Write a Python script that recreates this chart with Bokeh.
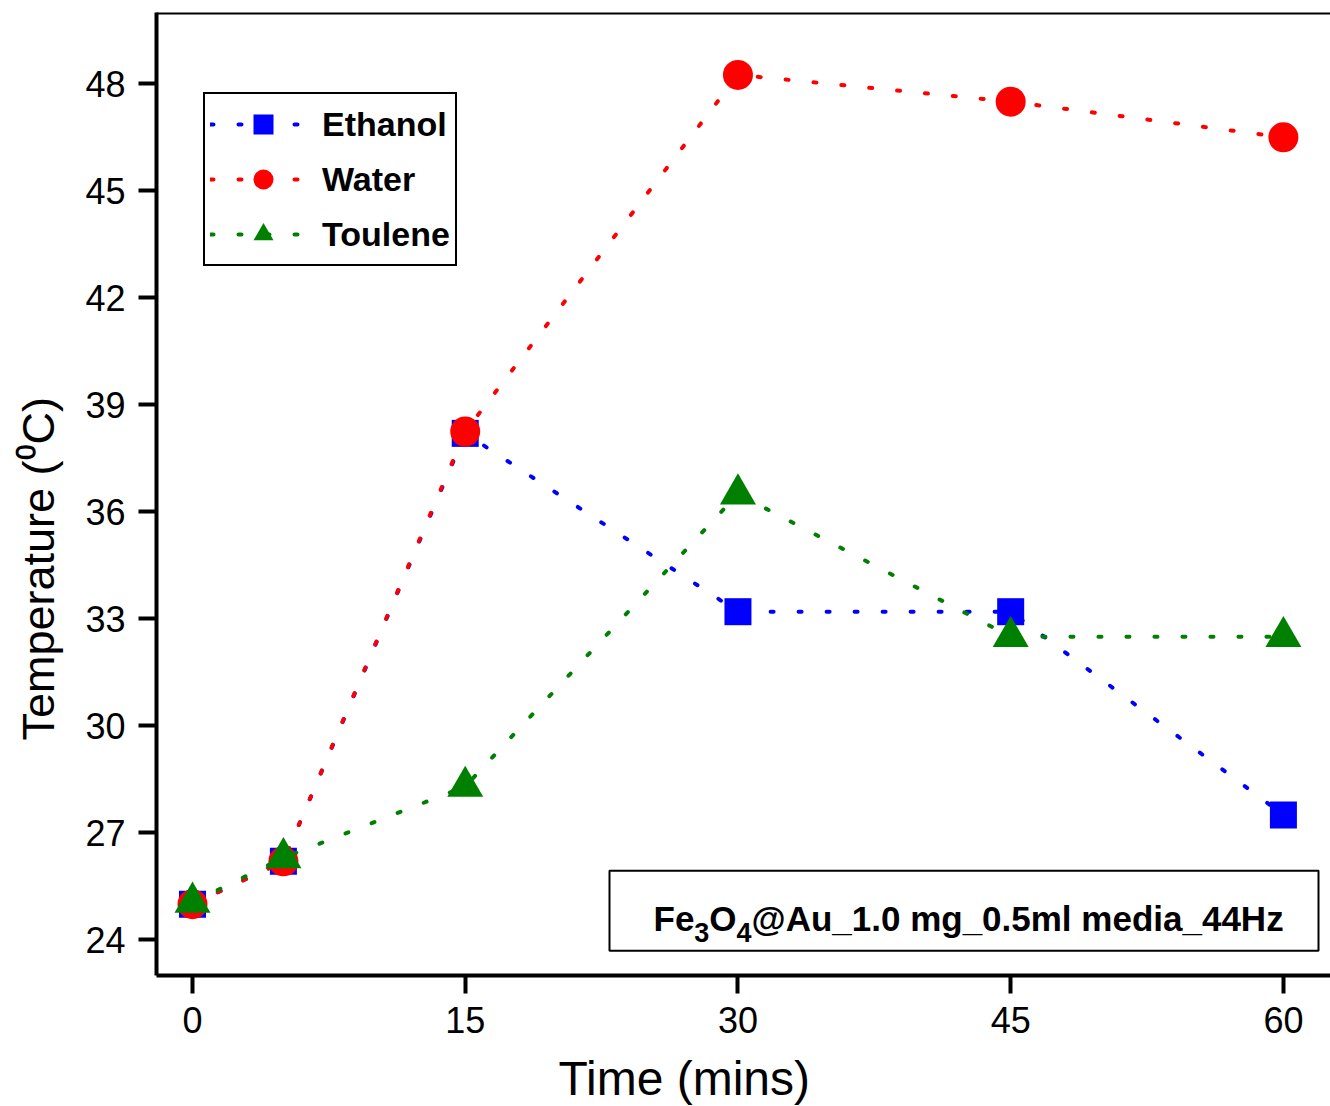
import numpy as np
from bokeh.plotting import figure
from bokeh.models import Range1d, FixedTicker, Label, BoxAnnotation, Span, Title
from bokeh.embed import file_html
from bokeh.resources import INLINE

# ---------------- data ----------------
time_min = [0, 5, 15, 30, 45, 60]
ethanol = [25.0, 26.2, 38.2, 33.2, 33.2, 27.5]
water = [25.0, 26.2, 38.25, 48.25, 47.5, 46.5]
toulene = [25.05, 26.3, 28.3, 36.5, 32.5, 32.5]
series_names = ["Ethanol", "Water", "Toulene"]
x_ticks = [0, 15, 30, 45, 60]
y_ticks = [24, 27, 30, 33, 36, 39, 42, 45, 48]
x_label = "Time (mins)"
y_label = "Temperature (\u2070C)"
note_parts = ["Fe", "3", "O", "4", "@Au_1.0 mg_0.5ml media_44Hz"]

FONT = "Liberation Sans"
colors = ["#0000FF", "#FF0000", "#008000"]
markers = ["square", "circle", "triangle"]
msizes = [27, 30, 36]

p = figure(width=1330, height=1106, output_backend="svg", toolbar_location=None,
           x_range=Range1d(-1.98, 62.59), y_range=Range1d(23, 50),
           min_border_left=156, min_border_right=0, min_border_top=12,
           min_border_bottom=131,
           background_fill_color="white", border_fill_color="white")
p.outline_line_color = None
p.grid.visible = False

for ax in (p.xaxis[0], p.yaxis[0]):
    ax.axis_line_width = 4
    ax.axis_line_color = "black"
    ax.major_tick_line_width = 4
    ax.major_tick_line_color = "black"
    ax.major_tick_in = 0
    ax.major_tick_out = 18
    ax.minor_tick_line_color = None
    ax.major_label_text_font = FONT
    ax.major_label_text_font_size = "36px"
    ax.major_label_text_color = "black"
    ax.major_label_standoff = 13
    ax.axis_label = None
p.xaxis[0].ticker = FixedTicker(ticks=x_ticks)
p.yaxis[0].ticker = FixedTicker(ticks=y_ticks)
# blank axis labels used only as spacers between tick labels and the titles
p.yaxis[0].axis_label = " "
p.yaxis[0].axis_label_text_font_size = "1px"
p.yaxis[0].axis_label_standoff = 10
p.xaxis[0].axis_label = " "
p.xaxis[0].axis_label_text_font_size = "1px"
p.xaxis[0].axis_label_standoff = 12

# top frame border
p.add_layout(Span(location=50, dimension="width", line_color="black", line_width=4))

for name, ys, c, m, s in zip(series_names, [ethanol, water, toulene], colors, markers, msizes):
    p.line(time_min, ys, line_color=c, line_width=4, line_dash="3 25",
           line_cap="round", legend_label=name)
    p.scatter(time_min, ys, marker=m, size=s, fill_color=c, line_color=None,
              legend_label=name)

lg = p.legend[0]
lg.location = (47, 709)
lg.padding = 5
lg.spacing = 5
lg.margin = 0
lg.glyph_width = 106
lg.glyph_height = 50
lg.label_standoff = 6
lg.label_text_font = FONT
lg.label_text_font_style = "bold"
lg.label_text_font_size = "34px"
lg.label_text_color = "black"
lg.border_line_color = "black"
lg.border_line_alpha = 1.0
lg.border_line_width = 2
lg.background_fill_color = "white"
lg.background_fill_alpha = 1

# axis titles as side-panel titles (so they can be offset along the frame)
p.add_layout(Title(text=x_label, align="left", vertical_align="top", offset=402,
                   standoff=0, text_font=FONT, text_font_size="48px",
                   text_font_style="normal", text_color="black"), "below")
p.add_layout(Title(text=y_label, align="left", offset=235, standoff=10,
                   text_font=FONT, text_font_size="45px", text_font_style="normal",
                   text_color="black"), "left")

# annotation box with sub-scripted formula
p.add_layout(BoxAnnotation(left=453, right=1162, bottom=24.7, top=104.7,
                           left_units="screen", right_units="screen",
                           bottom_units="screen", top_units="screen",
                           fill_color="white", fill_alpha=1.0,
                           line_color="black", line_width=2, line_alpha=1.0))
note_pos = [(497.0, 56.7, "35px"), (537.8, 42.7, "27px"), (552.8, 56.7, "35px"),
            (580.0, 42.7, "27px"), (595.0, 56.7, "35px")]
for txt, (xx, yy, fs) in zip(note_parts, note_pos):
    p.add_layout(Label(x=xx, y=yy, x_units="screen", y_units="screen", text=txt,
                       text_align="left", text_baseline="alphabetic",
                       text_font=FONT, text_font_style="bold", text_font_size=fs,
                       text_color="black"))

open("out.html", "w").write(file_html(p, INLINE))
